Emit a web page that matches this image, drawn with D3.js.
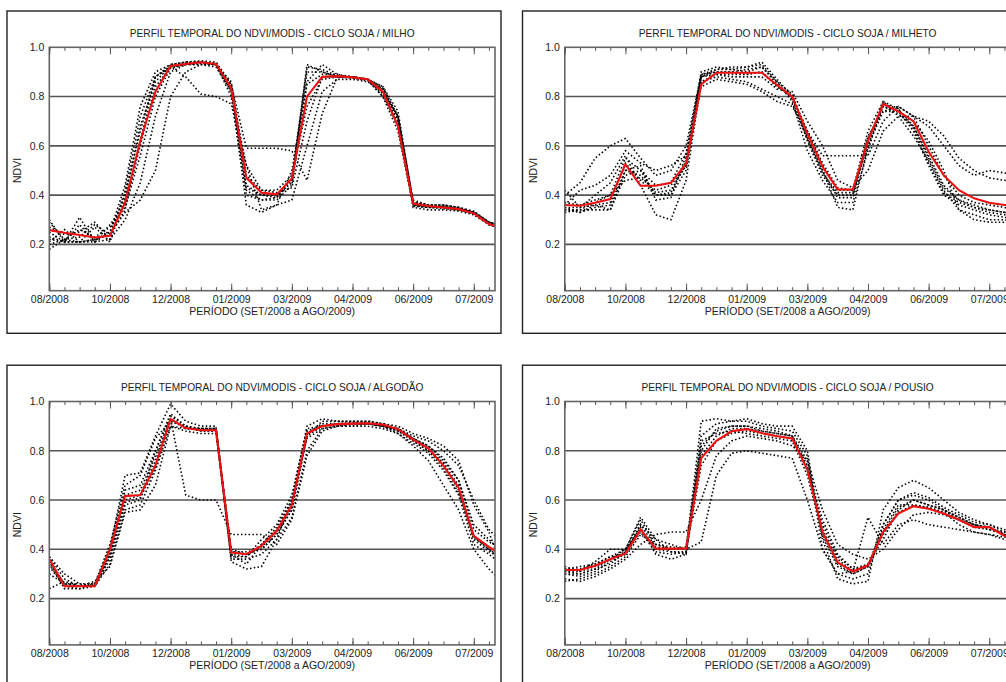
<!DOCTYPE html>
<html>
<head>
<meta charset="utf-8">
<script src="https://d3js.org/d3.v7.min.js"></script>
<style>
body { margin: 0; background: #fff; }
svg { display: block; background: #fff; }
text { font-family: "Liberation Sans", Arial, sans-serif; }
.tick text, .rot { fill: #222; font-size: 10.5px; }
</style>
</head>
<body>
<svg id="grafico"></svg>
<script>
//rotulos do eixo x (um a cada 4 composicoes de 16 dias)
var rotulosX = ["08/2008", "10/2008", "12/2008", "01/2009", "03/2009", "04/2009", "06/2009", "07/2009"]
var rotulosY = [0.2, 0.4, 0.6, 0.8, 1.0]
var grade = [0.2, 0.4, 0.6, 0.8]

var titulos = [
    "PERFIL TEMPORAL DO NDVI/MODIS - CICLO SOJA / MILHO",
    "PERFIL TEMPORAL DO NDVI/MODIS - CICLO SOJA / MILHETO",
    "PERFIL TEMPORAL DO NDVI/MODIS - CICLO SOJA / ALGODÃO",
    "PERFIL TEMPORAL DO NDVI/MODIS - CICLO SOJA / POUSIO"
]

/*
    media = linha vermelha, pix = perfis dos pixels (linhas pontilhadas)
    um valor por composicao MODIS (indice 0..30)
 */
var mediaMilho = [0.258,0.247,0.238,0.228,0.235,0.37,0.62,0.82,0.924,0.932,0.939,0.932,0.834,0.47,0.41,0.403,0.468,0.80,0.88,0.883,0.878,0.87,0.82,0.68,0.366,0.356,0.35,0.343,0.326,0.283,0.262]
var pixMilho = [
    [0.22,0.21,0.21,0.21,0.22,0.42,0.72,0.88,0.93,0.94,0.945,0.94,0.85,0.44,0.40,0.40,0.45,0.93,0.90,0.88,0.88,0.87,0.80,0.70,0.36,0.35,0.355,0.345,0.33,0.29,0.27],
    [0.30,0.21,0.31,0.21,0.28,0.36,0.60,0.84,0.92,0.93,0.94,0.93,0.83,0.42,0.38,0.38,0.44,0.85,0.89,0.89,0.88,0.87,0.84,0.72,0.37,0.36,0.36,0.35,0.33,0.29,0.27],
    [0.27,0.24,0.25,0.29,0.22,0.30,0.45,0.72,0.90,0.93,0.93,0.92,0.82,0.52,0.42,0.41,0.43,0.70,0.88,0.88,0.88,0.87,0.83,0.72,0.38,0.36,0.35,0.34,0.33,0.29,0.27],
    [0.20,0.22,0.23,0.28,0.24,0.33,0.38,0.50,0.80,0.90,0.93,0.93,0.85,0.59,0.59,0.59,0.58,0.46,0.73,0.88,0.88,0.87,0.82,0.72,0.36,0.35,0.35,0.34,0.33,0.29,0.27],
    [0.18,0.22,0.21,0.22,0.24,0.34,0.62,0.88,0.92,0.88,0.81,0.80,0.77,0.52,0.34,0.36,0.38,0.60,0.82,0.87,0.87,0.86,0.82,0.70,0.35,0.34,0.34,0.335,0.32,0.28,0.26],
    [0.23,0.21,0.21,0.22,0.25,0.40,0.66,0.88,0.92,0.93,0.93,0.93,0.82,0.36,0.33,0.36,0.50,0.86,0.93,0.89,0.875,0.87,0.84,0.74,0.37,0.36,0.36,0.35,0.335,0.29,0.27],
    [0.25,0.21,0.28,0.21,0.25,0.44,0.76,0.90,0.93,0.94,0.94,0.935,0.84,0.43,0.40,0.39,0.47,0.92,0.91,0.885,0.88,0.87,0.81,0.68,0.36,0.355,0.35,0.345,0.33,0.285,0.265],
    [0.21,0.26,0.21,0.27,0.21,0.39,0.68,0.86,0.925,0.935,0.94,0.93,0.80,0.40,0.38,0.39,0.46,0.90,0.90,0.88,0.875,0.865,0.80,0.66,0.355,0.35,0.345,0.34,0.325,0.28,0.26],
    [0.29,0.22,0.26,0.23,0.27,0.35,0.56,0.80,0.915,0.93,0.935,0.93,0.86,0.48,0.42,0.42,0.48,0.76,0.87,0.88,0.88,0.87,0.83,0.71,0.37,0.36,0.355,0.35,0.33,0.29,0.27]
]

var mediaMilheto = [0.36,0.357,0.369,0.384,0.525,0.438,0.438,0.45,0.528,0.85,0.897,0.897,0.897,0.897,0.847,0.80,0.65,0.515,0.423,0.423,0.62,0.77,0.74,0.70,0.576,0.48,0.42,0.387,0.369,0.36,0.357]
var pixMilheto = [
    [0.34,0.34,0.34,0.34,0.48,0.50,0.40,0.40,0.50,0.88,0.91,0.91,0.92,0.94,0.87,0.80,0.62,0.48,0.40,0.40,0.64,0.74,0.74,0.66,0.52,0.40,0.36,0.34,0.32,0.31,0.30],
    [0.35,0.33,0.36,0.34,0.50,0.52,0.38,0.39,0.56,0.90,0.92,0.91,0.90,0.92,0.86,0.78,0.58,0.46,0.37,0.37,0.58,0.78,0.75,0.68,0.56,0.44,0.38,0.35,0.33,0.32,0.31],
    [0.40,0.45,0.55,0.60,0.63,0.55,0.48,0.50,0.60,0.89,0.90,0.90,0.89,0.90,0.84,0.80,0.66,0.56,0.56,0.56,0.56,0.70,0.76,0.72,0.68,0.60,0.52,0.48,0.50,0.49,0.48],
    [0.42,0.35,0.40,0.45,0.56,0.44,0.32,0.30,0.46,0.86,0.88,0.87,0.86,0.83,0.80,0.77,0.63,0.50,0.35,0.34,0.60,0.76,0.74,0.70,0.62,0.50,0.34,0.30,0.29,0.29,0.28],
    [0.36,0.42,0.44,0.48,0.58,0.53,0.50,0.52,0.56,0.86,0.89,0.88,0.88,0.88,0.83,0.82,0.70,0.60,0.46,0.43,0.50,0.66,0.72,0.72,0.70,0.64,0.55,0.50,0.47,0.46,0.45],
    [0.33,0.34,0.37,0.40,0.46,0.47,0.42,0.44,0.52,0.84,0.87,0.86,0.85,0.82,0.78,0.76,0.66,0.52,0.42,0.42,0.66,0.78,0.72,0.64,0.54,0.42,0.34,0.32,0.30,0.30,0.29],
    [0.34,0.33,0.35,0.36,0.50,0.48,0.41,0.42,0.52,0.89,0.91,0.92,0.92,0.93,0.86,0.81,0.64,0.50,0.39,0.39,0.62,0.77,0.75,0.67,0.53,0.41,0.37,0.35,0.34,0.33,0.32],
    [0.35,0.35,0.36,0.37,0.53,0.46,0.40,0.41,0.54,0.88,0.90,0.90,0.91,0.92,0.85,0.79,0.63,0.49,0.41,0.41,0.63,0.76,0.73,0.68,0.55,0.43,0.38,0.36,0.34,0.33,0.32],
    [0.37,0.36,0.38,0.40,0.55,0.50,0.44,0.45,0.57,0.88,0.89,0.89,0.89,0.90,0.84,0.80,0.66,0.53,0.43,0.42,0.60,0.74,0.76,0.72,0.60,0.48,0.40,0.37,0.36,0.35,0.34]
]

var mediaAlgodao = [0.36,0.25,0.25,0.25,0.40,0.616,0.62,0.74,0.929,0.892,0.883,0.883,0.387,0.38,0.414,0.475,0.58,0.87,0.90,0.908,0.91,0.912,0.906,0.888,0.845,0.81,0.74,0.65,0.455,0.41,0.37]
var pixAlgodao = [
    [0.37,0.28,0.25,0.25,0.36,0.58,0.60,0.80,0.95,0.90,0.89,0.89,0.40,0.38,0.40,0.46,0.56,0.86,0.92,0.92,0.92,0.92,0.91,0.89,0.84,0.80,0.75,0.66,0.45,0.40,0.35],
    [0.34,0.25,0.24,0.26,0.42,0.66,0.70,0.85,0.92,0.90,0.88,0.88,0.37,0.37,0.44,0.50,0.62,0.89,0.90,0.91,0.91,0.91,0.90,0.88,0.85,0.82,0.76,0.68,0.48,0.43,0.40],
    [0.24,0.27,0.25,0.27,0.33,0.55,0.56,0.66,0.90,0.88,0.87,0.87,0.36,0.36,0.38,0.44,0.53,0.80,0.89,0.90,0.91,0.91,0.90,0.89,0.86,0.84,0.80,0.74,0.60,0.48,0.42],
    [0.37,0.30,0.26,0.25,0.38,0.62,0.64,0.78,0.93,0.62,0.60,0.60,0.46,0.46,0.46,0.42,0.52,0.78,0.88,0.90,0.90,0.91,0.90,0.87,0.82,0.76,0.66,0.56,0.40,0.32,0.26],
    [0.30,0.26,0.25,0.26,0.40,0.70,0.71,0.86,0.99,0.92,0.90,0.90,0.35,0.32,0.33,0.44,0.60,0.90,0.93,0.92,0.92,0.92,0.91,0.90,0.87,0.85,0.82,0.76,0.58,0.47,0.30],
    [0.35,0.24,0.24,0.25,0.34,0.56,0.58,0.72,0.90,0.89,0.89,0.89,0.38,0.34,0.42,0.48,0.60,0.85,0.89,0.90,0.90,0.90,0.89,0.87,0.83,0.79,0.72,0.62,0.42,0.38,0.33],
    [0.36,0.26,0.25,0.25,0.38,0.60,0.62,0.76,0.93,0.89,0.885,0.885,0.39,0.38,0.41,0.47,0.57,0.87,0.91,0.91,0.915,0.915,0.905,0.89,0.85,0.81,0.75,0.64,0.44,0.39,0.36],
    [0.33,0.25,0.25,0.25,0.41,0.64,0.66,0.80,0.94,0.90,0.89,0.89,0.38,0.37,0.42,0.49,0.60,0.88,0.90,0.91,0.91,0.91,0.90,0.89,0.85,0.82,0.77,0.68,0.50,0.44,0.38],
    [0.35,0.26,0.26,0.26,0.37,0.59,0.61,0.73,0.92,0.895,0.88,0.88,0.39,0.39,0.40,0.46,0.56,0.86,0.90,0.905,0.91,0.91,0.90,0.88,0.84,0.80,0.73,0.63,0.45,0.40,0.36]
]

var mediaPousio = [0.316,0.316,0.333,0.36,0.383,0.48,0.403,0.403,0.403,0.77,0.84,0.879,0.888,0.872,0.859,0.85,0.724,0.47,0.347,0.31,0.335,0.47,0.545,0.575,0.565,0.545,0.52,0.49,0.49,0.455,0.43]
var pixPousio = [
    [0.30,0.30,0.32,0.36,0.40,0.52,0.42,0.40,0.40,0.86,0.91,0.92,0.92,0.90,0.89,0.88,0.78,0.40,0.30,0.28,0.30,0.50,0.60,0.62,0.60,0.56,0.53,0.50,0.49,0.46,0.44],
    [0.32,0.33,0.34,0.37,0.38,0.50,0.44,0.39,0.38,0.80,0.89,0.90,0.90,0.89,0.88,0.86,0.72,0.52,0.38,0.32,0.34,0.44,0.56,0.60,0.58,0.56,0.52,0.49,0.48,0.46,0.42],
    [0.28,0.27,0.29,0.32,0.36,0.42,0.46,0.47,0.47,0.60,0.78,0.84,0.86,0.85,0.84,0.82,0.76,0.56,0.42,0.38,0.36,0.40,0.48,0.54,0.55,0.54,0.52,0.50,0.48,0.47,0.45],
    [0.27,0.28,0.30,0.33,0.37,0.46,0.42,0.41,0.40,0.43,0.70,0.79,0.80,0.79,0.78,0.77,0.60,0.40,0.30,0.31,0.53,0.42,0.50,0.52,0.50,0.49,0.48,0.47,0.46,0.45,0.42],
    [0.33,0.31,0.35,0.40,0.40,0.53,0.44,0.42,0.40,0.92,0.93,0.92,0.93,0.91,0.90,0.90,0.80,0.44,0.28,0.26,0.27,0.56,0.65,0.68,0.65,0.60,0.55,0.52,0.50,0.48,0.44],
    [0.31,0.30,0.32,0.34,0.39,0.49,0.38,0.36,0.38,0.84,0.87,0.88,0.87,0.86,0.85,0.84,0.70,0.46,0.34,0.30,0.33,0.48,0.58,0.58,0.57,0.55,0.50,0.47,0.46,0.44,0.41],
    [0.31,0.31,0.33,0.36,0.39,0.50,0.41,0.40,0.41,0.82,0.88,0.90,0.90,0.88,0.87,0.86,0.76,0.45,0.33,0.30,0.33,0.47,0.57,0.60,0.58,0.56,0.53,0.50,0.49,0.46,0.43],
    [0.32,0.32,0.34,0.37,0.40,0.48,0.40,0.39,0.39,0.78,0.86,0.89,0.89,0.88,0.87,0.86,0.74,0.48,0.36,0.31,0.34,0.46,0.55,0.58,0.57,0.55,0.52,0.49,0.49,0.46,0.43],
    [0.30,0.29,0.31,0.35,0.38,0.47,0.39,0.38,0.39,0.74,0.84,0.87,0.88,0.87,0.86,0.85,0.73,0.50,0.37,0.32,0.33,0.50,0.60,0.63,0.61,0.57,0.54,0.51,0.50,0.47,0.44]
]

const width = 1006
const height = 682

var svg = d3.select("#grafico")
    .attr("width", width)
    .attr("height", height)

//geometria de um painel (coordenadas locais)
var moldura = {x: 7, y: 11, w: 494, h: 322.3}
var area = {x: 49.3, y: 47.3, w: 445.7, h: 243.4}

function fazerPainel(px, py, titulo, media, pixels, n) {
    var g = svg.append("g").attr("transform", `translate(${px},${py})`)

    g.append("rect")
        .attr("x", moldura.x).attr("y", moldura.y)
        .attr("width", moldura.w).attr("height", moldura.h)
        .attr("fill", "none")
        .attr("stroke", "#222")
        .attr("stroke-width", 1.4)

    g.append("text")
        .attr("class", "rot")
        .attr("x", area.x + area.w / 2)
        .attr("y", area.y - 10)
        .attr("text-anchor", "middle")
        .style("font-size", "10.2px")
        .text(titulo)

    var p = g.append("g").attr("transform", `translate(${area.x},${area.y})`)

    var x = d3.scaleLinear().domain([0, 29.4]).range([0, area.w])
    var y = d3.scaleLinear().domain([0.012, 1]).range([area.h, 0])

    //linhas de grade
    p.selectAll(".grade")
        .data(grade)
        .join("line")
        .attr("x1", 0).attr("x2", area.w)
        .attr("y1", d => y(d)).attr("y2", d => y(d))
        .attr("stroke", "#555")
        .attr("stroke-width", 1.6)

    p.append("clipPath").attr("id", "clip" + n)
        .append("rect").attr("width", area.w).attr("height", area.h)

    var linha = d3.line().x((d, i) => x(i)).y(d => y(d))

    var curvas = p.append("g").attr("clip-path", `url(#clip${n})`)

    curvas.selectAll(".pix")
        .data(pixels)
        .join("path")
        .attr("d", linha)
        .attr("fill", "none")
        .attr("stroke", "#000")
        .attr("stroke-width", 1.6)
        .attr("stroke-dasharray", "1.5,2.3")

    curvas.append("path")
        .datum(media)
        .attr("d", linha)
        .attr("fill", "none")
        .attr("stroke", "#ee1111")
        .attr("stroke-width", 2.1)

    //moldura da area do grafico
    p.append("rect")
        .attr("width", area.w).attr("height", area.h)
        .attr("fill", "none")
        .attr("stroke", "#666")
        .attr("stroke-width", 1.6)

    //ticks menores e maiores, embaixo e em cima (para dentro)
    var menores = d3.range(0, 30)
    var maiores = d3.range(0, 29, 4)

    p.append("g").attr("transform", `translate(0,${area.h})`).attr("color", "#555")
        .call(d3.axisBottom(x).tickValues(menores).tickSize(-3.5).tickFormat(""))
        .call(a => a.select(".domain").remove())
    p.append("g").attr("transform", `translate(0,${area.h})`).attr("color", "#555")
        .call(d3.axisBottom(x).tickValues(maiores).tickSize(-7).tickPadding(4.5)
            .tickFormat((d, i) => rotulosX[i]))
        .call(a => a.select(".domain").remove())
    p.append("g").attr("color", "#555")
        .call(d3.axisTop(x).tickValues(menores).tickSize(-3.5).tickFormat(""))
        .call(a => a.select(".domain").remove())
    p.append("g").attr("color", "#555")
        .call(d3.axisTop(x).tickValues(maiores).tickSize(-7).tickFormat(""))
        .call(a => a.select(".domain").remove())

    p.append("g").attr("color", "#555")
        .call(d3.axisLeft(y).tickValues(rotulosY).tickSize(0).tickPadding(5)
            .tickFormat(d3.format(".1f")))
        .call(a => a.select(".domain").remove())

    g.append("text")
        .attr("class", "rot")
        .attr("x", area.x + area.w / 2)
        .attr("y", area.y + area.h + 24.5)
        .attr("text-anchor", "middle")
        .text("PERÍODO (SET/2008 a AGO/2009)")

    g.append("text")
        .attr("class", "rot")
        .attr("transform", `translate(21,${area.y + y(0.5)}) rotate(-90)`)
        .attr("text-anchor", "middle")
        .text("NDVI")
}

var dx = 515.5
var dy = 354.2
fazerPainel(0, 0, titulos[0], mediaMilho, pixMilho, 0)
fazerPainel(dx, 0, titulos[1], mediaMilheto, pixMilheto, 1)
fazerPainel(0, dy, titulos[2], mediaAlgodao, pixAlgodao, 2)
fazerPainel(dx, dy, titulos[3], mediaPousio, pixPousio, 3)
</script>
</body>
</html>
